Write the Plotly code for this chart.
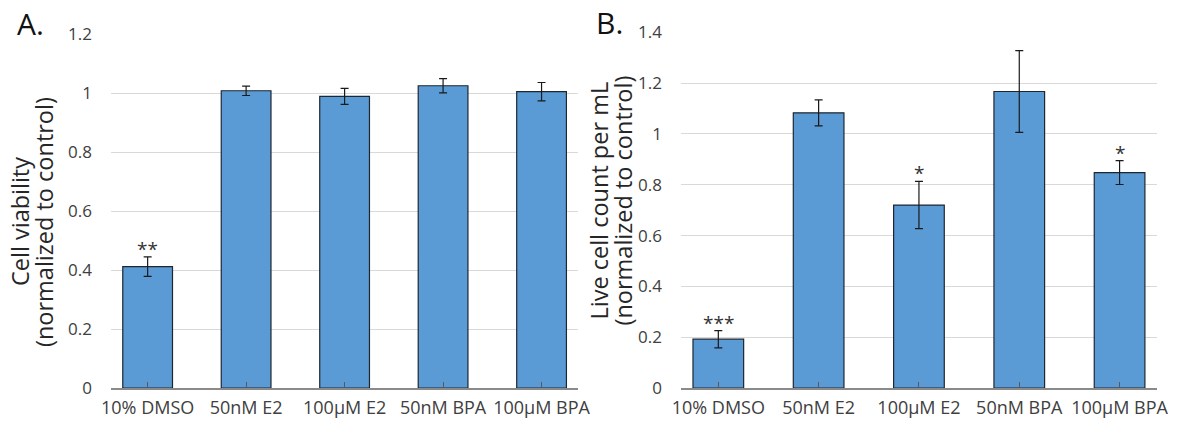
import plotly.graph_objects as go

# Treatment groups (shared by both panels)
categories = ["10% DMSO", "50nM E2", "100µM E2", "50nM BPA", "100µM BPA"]

# Panel A: cell viability, normalized to control
viability = [0.412, 1.009, 0.990, 1.026, 1.006]
viability_err = [0.033, 0.016, 0.027, 0.024, 0.031]
viability_sig = ["**", "", "", "", ""]

# Panel B: live cell count per mL, normalized to control
live_count = [0.192, 1.083, 0.720, 1.167, 0.848]
live_count_err = [0.034, 0.051, 0.093, 0.161, 0.047]
live_count_sig = ["***", "", "*", "", "*"]

FONT = "Open Sans"
BAR_FILL = "#5B9BD5"
BAR_EDGE = "#1E2630"
TICK_COLOR = "#404040"
TITLE_COLOR = "#262626"
X_RANGE = [-0.372, 4.37]
W, H = 1179, 421

fig = go.Figure()

def add_panel(values, errors, xref, yref):
    fig.add_trace(go.Bar(
        x=categories, y=values,
        width=0.505,
        marker=dict(color=BAR_FILL, line=dict(color=BAR_EDGE, width=1.2)),
        error_y=dict(type="data", array=errors, visible=True,
                     color="#1a1a1a", thickness=1.2, width=4),
        xaxis=xref, yaxis=yref, showlegend=False, hoverinfo="x+y",
    ))

add_panel(viability, viability_err, "x", "y")
add_panel(live_count, live_count_err, "x2", "y2")

# Significance stars placed just above each error bar
def add_stars(values, errors, marks, xref, yref):
    for cat, v, e, m in zip(categories, values, errors, marks):
        if m:
            fig.add_annotation(x=cat, y=v + e, xref=xref, yref=yref,
                               text=m, showarrow=False, yanchor="bottom",
                               yshift=-7, font=dict(family=FONT, size=19, color="#333333"))

add_stars(viability, viability_err, viability_sig, "x", "y")
add_stars(live_count, live_count_err, live_count_sig, "x2", "y2")

def px_x(p):
    return p / W

def px_y(p):
    return 1 - p / H

# Main category axes: labels plus the upper (inside) half of each tick mark
xaxis_common = dict(
    type="category", categoryorder="array", categoryarray=categories,
    range=X_RANGE, showline=True, linecolor="#8A8A8A", linewidth=1.6,
    ticks="inside", ticklen=6, tickwidth=1, tickcolor="#595959",
    showgrid=False, zeroline=False, fixedrange=True, automargin=False,
    tickangle=0, ticklabelstandoff=3,
    tickfont=dict(family=FONT, size=18, color=TICK_COLOR),
)
# Overlaid axes draw the lower (outside) half of each tick mark
overlay_common = dict(
    type="linear", range=X_RANGE, tickmode="array", tickvals=list(range(len(categories))),
    showticklabels=False, ticks="outside", ticklen=5, tickwidth=1, tickcolor="#595959",
    showline=False, showgrid=False, zeroline=False, fixedrange=True, automargin=False,
)
yaxis_common = dict(
    showline=False, ticks="", showgrid=True, gridcolor="#D9D9D9", gridwidth=1,
    zeroline=False, fixedrange=True, ticklabelstandoff=18, automargin=False,
    tickfont=dict(family=FONT, size=17, color=TICK_COLOR),
)

fig.update_layout(
    width=W, height=H,
    margin=dict(l=0, r=0, t=0, b=0),
    paper_bgcolor="white", plot_bgcolor="white",
    bargap=0.5,
    xaxis=dict(domain=[px_x(111), px_x(578)], anchor="y", **xaxis_common),
    xaxis2=dict(domain=[px_x(681), px_x(1156.7)], anchor="y2", **xaxis_common),
    xaxis3=dict(domain=[px_x(111), px_x(578)], anchor="y", overlaying="x", **overlay_common),
    xaxis4=dict(domain=[px_x(681), px_x(1156.7)], anchor="y2", overlaying="x2", **overlay_common),
    yaxis=dict(domain=[px_y(388), px_y(34.5)], anchor="x", range=[0, 1.2],
               tickvals=[0, 0.2, 0.4, 0.6, 0.8, 1, 1.2],
               ticktext=["0", "0.2", "0.4", "0.6", "0.8", "1", "1.2"], **yaxis_common),
    yaxis2=dict(domain=[px_y(388), px_y(32.3)], anchor="x2", range=[0, 1.4],
                tickvals=[0, 0.2, 0.4, 0.6, 0.8, 1, 1.2, 1.4],
                ticktext=["0", "0.2", "0.4", "0.6", "0.8", "1", "1.2", "1.4"], **yaxis_common),
)

# Y-axis titles, one annotation per line for tight line spacing
def add_title(lines, xs, yc):
    for line, xc in zip(lines, xs):
        fig.add_annotation(xref="paper", yref="paper", x=px_x(xc), y=px_y(yc),
                           text=line, textangle=-90, showarrow=False,
                           xanchor="center", yanchor="middle",
                           font=dict(family=FONT, size=23.5, color=TITLE_COLOR))

add_title(["Cell viability", "(normalized to control)"], [20, 44], 222)
add_title(["Live cell count per mL", "(normalized to control)"], [598.5, 622.5], 201)

# Panel letters
fig.add_annotation(xref="paper", yref="paper", x=px_x(15), y=px_y(24),
                   text="A.", showarrow=False, xanchor="left", yanchor="middle",
                   font=dict(family=FONT, size=30, color="#111111"))
fig.add_annotation(xref="paper", yref="paper", x=px_x(594), y=px_y(23),
                   text="B.", showarrow=False, xanchor="left", yanchor="middle",
                   font=dict(family=FONT, size=30, color="#111111"))

fig.write_html("out.html", post_script="document.body.style.margin='0';")
